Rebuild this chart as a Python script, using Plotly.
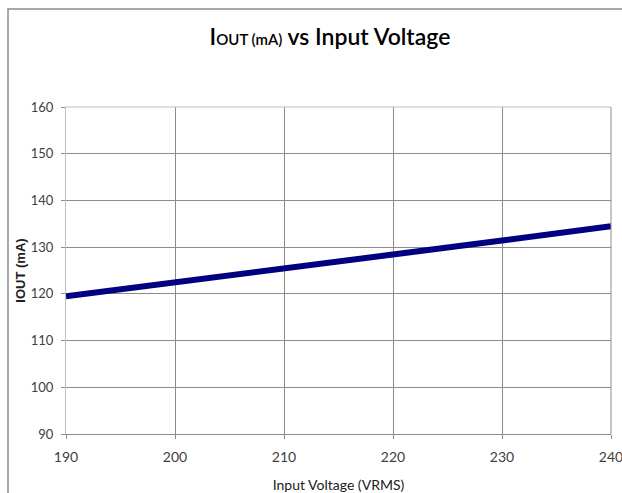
import plotly.graph_objects as go

voltage = [190, 200, 210, 220, 230, 240]
iout_ma = [119.5, 122.4, 125.3, 128.3, 131.4, 134.5]
x_ticks = [190, 200, 210, 220, 230, 240]
y_ticks = [90, 100, 110, 120, 130, 140, 150, 160]

FONT = "Lato, Open Sans, sans-serif"

fig = go.Figure()
fig.add_trace(go.Scatter(x=voltage, y=iout_ma, mode="lines",
                         line=dict(color="#000080", width=6), showlegend=False,
                         cliponaxis=False))

W, H = 640, 493
L, R, T, B = 66, 29, 107, 59
pw, ph = W - L - R, H - T - B

fig.update_layout(
    width=W, height=H,
    margin=dict(l=L, r=R, t=T, b=B),
    paper_bgcolor="white", plot_bgcolor="white",
    font=dict(family=FONT, color="#404040", size=14),
    title=dict(text="I<span style='font-size:15px'>OUT (mA)</span> vs Input Voltage",
               x=330 / W, xanchor="center", y=1 - 37 / H, yanchor="middle",
               xref="container", yref="container",
               font=dict(family=FONT, size=23, color="black", weight=600)),
    xaxis=dict(range=[190, 240], tickvals=x_ticks, showgrid=True,
               gridcolor="#8c8c8c", gridwidth=1, zeroline=False,
               showline=True, linecolor="#8c8c8c", mirror=False,
               ticks="outside", ticklen=4, tickcolor="#8c8c8c",
               ticklabeloverflow="allow", ticklabelstandoff=6,
               automargin=False, tickfont=dict(size=14),
               title=dict(text="Input Voltage (VRMS)", standoff=17,
                          font=dict(family=FONT, size=14, color="#202020"))),
    yaxis=dict(range=[90, 160], tickvals=y_ticks, showgrid=True,
               gridcolor="#8c8c8c", gridwidth=1, zeroline=False,
               showline=True, linecolor="#bfbfbf",
               ticks="outside", ticklen=4, tickcolor="#8c8c8c",
               ticklabelstandoff=5, automargin=False, tickfont=dict(size=13),
               title=dict(text="<b>IOUT (mA)</b>", standoff=2,
                          font=dict(family="Liberation Sans, Arial, sans-serif", size=13, color="#202020"))),
)

# plot area right and top frame
fig.add_shape(type="line", xref="paper", yref="paper", x0=1, x1=1, y0=0, y1=1,
              line=dict(color="#8c8c8c", width=1))
fig.add_shape(type="line", xref="paper", yref="paper", x0=0, x1=1, y0=1, y1=1,
              line=dict(color="#bfbfbf", width=1))
# outer chart border
fig.add_shape(type="rect", xref="paper", yref="paper",
              x0=(8 - L) / pw, x1=(W + 20 - L) / pw,
              y0=-(H + 20 - (T + ph)) / ph, y1=(T + ph - 9) / ph,
              line=dict(color="#8c8c8c", width=1.5), layer="below")

fig.write_html("out.html", config={"displayModeBar": False},
               post_script="document.body.style.margin='0';document.body.style.overflow='hidden';")
